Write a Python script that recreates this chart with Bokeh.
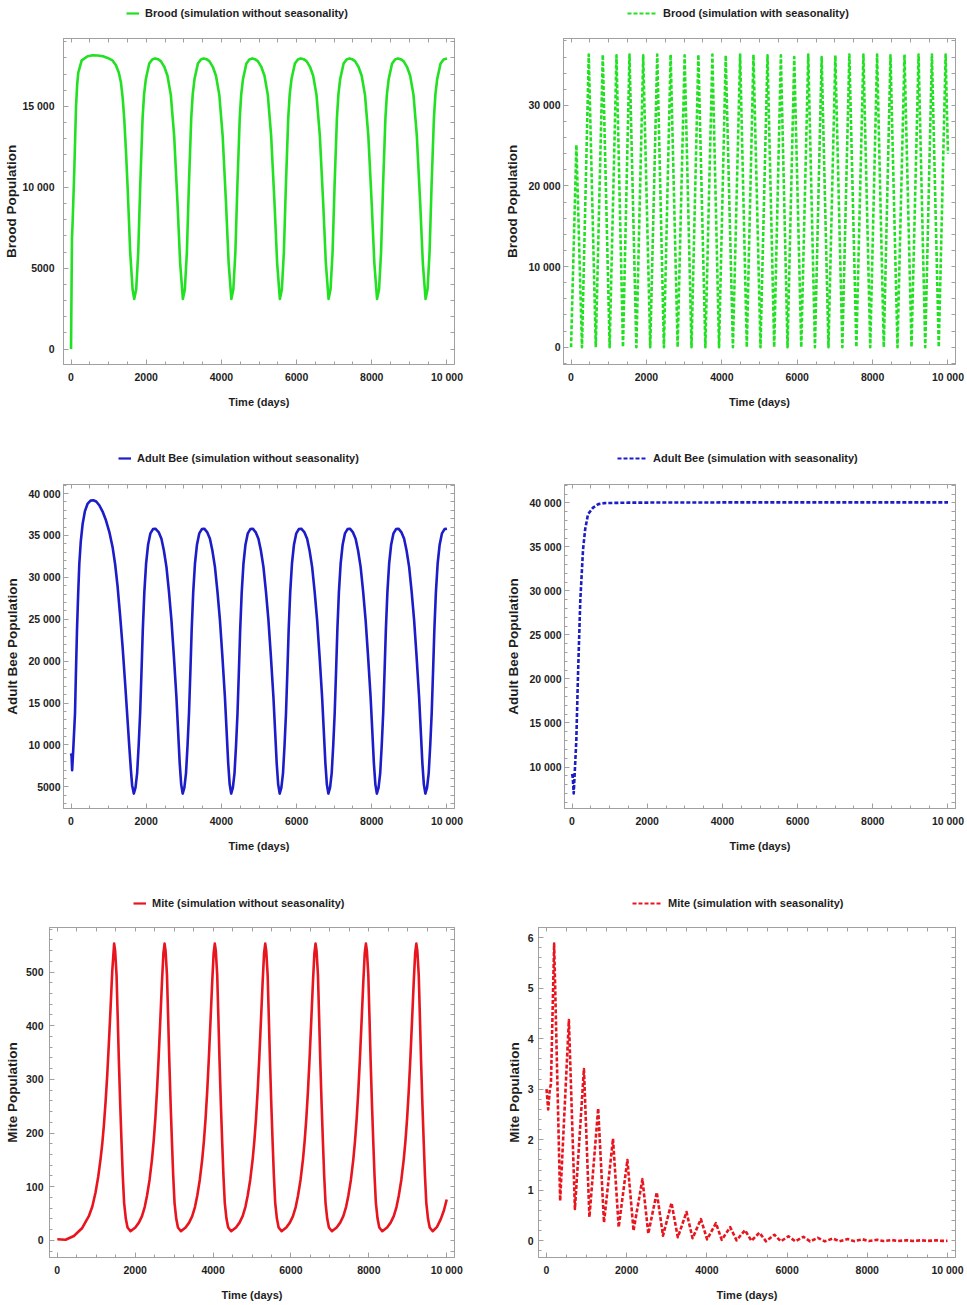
from bokeh.plotting import figure
from bokeh.models import Range1d, FixedTicker, LinearAxis, Legend, LegendItem
from bokeh.layouts import column, row
from bokeh.core.properties import value
from bokeh.embed import file_html
from bokeh.resources import INLINE

# ---------------- data ----------------
x_ticks = [0, 2000, 4000, 6000, 8000, 10000]
x_tick_labels = ["0", "2000", "4000", "6000", "8000", "10 000"]

# Brood, simulation without seasonality
brood_t = [0, 25, 45, 88, 133, 165, 194, 284, 443, 580, 708, 850, 974, 1100, 1195, 1270, 1327, 1375, 1415, 1460, 1504, 1574, 1637, 1681,
           1734, 1788, 1841, 1903, 1943, 1991, 2081, 2161, 2238, 2311, 2389, 2481, 2566, 2655, 2743, 2831, 2902, 2975,
           3028, 3082, 3135, 3197, 3237, 3285, 3375, 3455, 3532, 3601, 3679, 3771, 3856, 3945, 4033, 4121, 4192, 4265,
           4318, 4372, 4425, 4487, 4527, 4575, 4665, 4745, 4822, 4891, 4969, 5061, 5146, 5235, 5323, 5411, 5482, 5555,
           5608, 5662, 5715, 5777, 5817, 5865, 5955, 6035, 6112, 6186, 6264, 6356, 6441, 6530, 6618, 6706, 6777, 6850,
           6903, 6957, 7010, 7072, 7112, 7160, 7250, 7330, 7407, 7476, 7554, 7646, 7731, 7820, 7908, 7996, 8067, 8140,
           8193, 8247, 8300, 8362, 8402, 8450, 8540, 8620, 8697, 8766, 8844, 8936, 9021, 9110, 9198, 9286, 9357, 9430,
           9483, 9537, 9590, 9652, 9692, 9740, 9830, 9910, 10000]
brood_v = [0, 6800, 8000, 11100, 15000, 16400, 17100, 17850, 18100, 18160, 18150, 18100, 18000, 17850, 17550, 17100, 16500, 15500, 14250, 12300, 10100, 6000, 3700, 3100,
           3700, 6000, 10100, 14250, 15750, 16700, 17650, 17900, 17970, 17920, 17800, 17450, 16900, 15700, 13200, 9100, 5350, 3100,
           3700, 6000, 10100, 14250, 15750, 16700, 17650, 17900, 17970, 17920, 17800, 17450, 16900, 15700, 13200, 9100, 5350, 3100,
           3700, 6000, 10100, 14250, 15750, 16700, 17650, 17900, 17970, 17920, 17800, 17450, 16900, 15700, 13200, 9100, 5350, 3100,
           3700, 6000, 10100, 14250, 15750, 16700, 17650, 17900, 17970, 17920, 17800, 17450, 16900, 15700, 13200, 9100, 5350, 3100,
           3700, 6000, 10100, 14250, 15750, 16700, 17650, 17900, 17970, 17920, 17800, 17450, 16900, 15700, 13200, 9100, 5350, 3100,
           3700, 6000, 10100, 14250, 15750, 16700, 17650, 17900, 17970, 17920, 17800, 17450, 16900, 15700, 13200, 9100, 5350, 3100,
           3700, 6000, 10100, 14250, 15750, 16700, 17650, 17900, 17960]

# Brood, simulation with seasonality
brood_s_t = [0, 142, 290, 470, 656, 842, 1024, 1206, 1378, 1551, 1733, 1915, 2101, 2287, 2464, 2642,
             2828, 3014, 3196, 3378, 3564, 3750, 3927, 4104, 4295, 4486, 4663, 4840, 5026, 5213, 5390,
             5567, 5744, 5922, 6108, 6294, 6471, 6649, 6830, 7012, 7198, 7384, 7570, 7757, 7938, 8120,
             8297, 8475, 8661, 8847, 9033, 9220, 9397, 9574, 9756, 9938, 10000]
brood_s_v = [0, 25100, 0, 36300, 0, 36300, 0, 36200, 0, 36300, 0, 36200, 0, 36300, 0, 36300,
             0, 36200, 0, 36300, 0, 36300, 0, 36200, 0, 36300, 0, 36300, 0, 36200, 0,
             36200, 0, 36000, 0, 36300, 0, 36000, 0, 36200, 0, 36300, 0, 36300, 0, 36300,
             0, 36200, 0, 36300, 0, 36300, 0, 36300, 0, 36300, 24000]

# Adult bee, simulation without seasonality
adult_t = [0, 15, 30, 60, 106, 130, 159, 190, 221, 260, 310, 370, 443, 520, 593, 670, 752, 840, 929, 1020, 1106, 1175, 1239, 1305, 1372, 1440, 1504, 1550, 1593, 1625, 1670,
           1715, 1758, 1800, 1838, 1875, 1909, 1950, 1997, 2050, 2112, 2180, 2244, 2330, 2405, 2470, 2538, 2605, 2671, 2737, 2803, 2850, 2891, 2930, 2970,
           3015, 3058, 3100, 3138, 3175, 3209, 3250, 3297, 3350, 3412, 3480, 3544, 3620, 3695, 3760, 3828, 3895, 3961, 4027, 4093, 4140, 4181, 4220, 4260,
           4305, 4348, 4390, 4428, 4465, 4499, 4540, 4587, 4640, 4702, 4770, 4834, 4910, 4985, 5050, 5118, 5185, 5251, 5317, 5383, 5430, 5471, 5510, 5550,
           5595, 5638, 5680, 5718, 5755, 5789, 5830, 5877, 5930, 5992, 6060, 6124, 6205, 6280, 6345, 6413, 6480, 6546, 6612, 6678, 6725, 6766, 6805, 6845,
           6890, 6933, 6975, 7013, 7050, 7084, 7125, 7172, 7225, 7287, 7355, 7419, 7495, 7570, 7635, 7703, 7770, 7836, 7902, 7968, 8015, 8056, 8095, 8135,
           8180, 8223, 8265, 8303, 8340, 8374, 8415, 8462, 8515, 8577, 8645, 8709, 8785, 8860, 8925, 8993, 9060, 9126, 9192, 9258, 9305, 9346, 9385, 9425,
           9470, 9513, 9555, 9593, 9630, 9664, 9705, 9752, 9805, 9867, 9935, 10000]
adult_v = [9000, 8700, 7000, 9500, 13750, 18500, 23700, 28000, 31650, 34300, 36400, 37900, 38800, 39150, 39200, 39050, 38600, 37850, 36800, 35400, 33600, 31500, 28900, 25500, 21700, 17300, 12950, 9800, 7000, 5200, 4200,
           4900, 6600, 10000, 13750, 18800, 23700, 28200, 31650, 33900, 35250, 35750, 35800, 35400, 34600, 33200, 31250, 28300, 24900, 20500, 15750, 11500, 7800, 5300, 4200,
           4900, 6600, 10000, 13750, 18800, 23700, 28200, 31650, 33900, 35250, 35750, 35800, 35400, 34600, 33200, 31250, 28300, 24900, 20500, 15750, 11500, 7800, 5300, 4200,
           4900, 6600, 10000, 13750, 18800, 23700, 28200, 31650, 33900, 35250, 35750, 35800, 35400, 34600, 33200, 31250, 28300, 24900, 20500, 15750, 11500, 7800, 5300, 4200,
           4900, 6600, 10000, 13750, 18800, 23700, 28200, 31650, 33900, 35250, 35750, 35800, 35400, 34600, 33200, 31250, 28300, 24900, 20500, 15750, 11500, 7800, 5300, 4200,
           4900, 6600, 10000, 13750, 18800, 23700, 28200, 31650, 33900, 35250, 35750, 35800, 35400, 34600, 33200, 31250, 28300, 24900, 20500, 15750, 11500, 7800, 5300, 4200,
           4900, 6600, 10000, 13750, 18800, 23700, 28200, 31650, 33900, 35250, 35750, 35800, 35400, 34600, 33200, 31250, 28300, 24900, 20500, 15750, 11500, 7800, 5300, 4200,
           4900, 6600, 10000, 13750, 18800, 23700, 28200, 31650, 33900, 35250, 35750, 35800]

# Adult bee, simulation with seasonality
adult_s_t = [0, 20, 45, 114, 160, 220, 293, 350, 425, 559, 700, 867, 1500, 3000, 5000, 7000, 10000]
adult_s_v = [9200, 8800, 7000, 13000, 20600, 28900, 34700, 37000, 38700, 39450, 39850, 39970,
             40020, 40040, 40050, 40050, 40050]

# Mite, simulation without seasonality
mite_t = [0, 213, 426, 641, 810, 900, 982, 1050, 1110, 1155, 1195, 1240, 1282, 1325, 1367, 1410, 1460,
          1485, 1522, 1550, 1580, 1615, 1650, 1682, 1716, 1760, 1804, 1880,
          2004, 2095, 2175, 2245, 2304, 2370, 2432, 2475, 2517, 2560, 2601, 2645, 2688, 2725, 2755, 2780, 2817, 2845, 2875, 2910, 2945, 2977, 3011, 3055, 3099, 3175,
          3294, 3385, 3465, 3535, 3594, 3660, 3722, 3765, 3807, 3850, 3891, 3935, 3978, 4015, 4045, 4070, 4107, 4135, 4165, 4200, 4235, 4267, 4301, 4345, 4389, 4465,
          4589, 4680, 4760, 4830, 4889, 4955, 5017, 5060, 5102, 5145, 5186, 5230, 5273, 5310, 5340, 5365, 5402, 5430, 5460, 5495, 5530, 5562, 5596, 5640, 5684, 5760,
          5881, 5972, 6052, 6122, 6181, 6247, 6309, 6352, 6394, 6437, 6478, 6522, 6565, 6602, 6632, 6657, 6694, 6722, 6752, 6787, 6822, 6854, 6888, 6932, 6976, 7052,
          7174, 7265, 7345, 7415, 7474, 7540, 7602, 7645, 7687, 7730, 7771, 7815, 7858, 7895, 7925, 7950, 7987, 8015, 8045, 8080, 8115, 8147, 8181, 8225, 8269, 8345,
          8469, 8560, 8640, 8710, 8769, 8835, 8897, 8940, 8982, 9025, 9066, 9110, 9153, 9190, 9220, 9245, 9282, 9310, 9340, 9375, 9410, 9442, 9476, 9520, 9564, 9640,
          9751, 9850, 9930, 10000]
mite_v = [2, 1, 8, 23, 45, 63, 89, 118, 151, 180, 213, 258, 307, 368, 431, 500, 553,
          540, 494, 420, 338, 255, 182, 120, 70, 40, 24, 17,
          24, 33, 45, 62, 83, 113, 151, 185, 226, 278, 338, 410, 481, 535, 553, 540, 494, 420, 338, 255, 182, 120, 70, 40, 24, 17,
          24, 33, 45, 62, 83, 113, 151, 185, 226, 278, 338, 410, 481, 535, 553, 540, 494, 420, 338, 255, 182, 120, 70, 40, 24, 17,
          24, 33, 45, 62, 83, 113, 151, 185, 226, 278, 338, 410, 481, 535, 553, 540, 494, 420, 338, 255, 182, 120, 70, 40, 24, 17,
          24, 33, 45, 62, 83, 113, 151, 185, 226, 278, 338, 410, 481, 535, 553, 540, 494, 420, 338, 255, 182, 120, 70, 40, 24, 17,
          24, 33, 45, 62, 83, 113, 151, 185, 226, 278, 338, 410, 481, 535, 553, 540, 494, 420, 338, 255, 182, 120, 70, 40, 24, 17,
          24, 33, 45, 62, 83, 113, 151, 185, 226, 278, 338, 410, 481, 535, 553, 540, 494, 420, 338, 255, 182, 120, 70, 40, 24, 17,
          25, 40, 56, 76]

# Mite, simulation with seasonality
mite_s_t = [0, 42, 83, 110, 190, 340, 558, 708, 933, 1070, 1288, 1433, 1658, 1800, 2017, 2170,
            2392, 2538, 2750, 2905, 3117, 3275, 3492, 3642, 3850, 4005, 4225, 4370, 4580, 4740,
            4950, 5110, 5308, 5475, 5683, 5845, 6033, 6208, 6408, 6575, 6767, 6940, 7142, 7305,
            7510, 7670, 7880, 8040, 8250, 8405, 8615, 8770, 8985, 9135, 9350, 9500, 9720, 9870, 10000]
mite_s_v = [3.0, 2.6, 3.0, 3.1, 5.88, 0.79, 4.37, 0.63, 3.40, 0.47, 2.62, 0.36, 2.02, 0.27, 1.60, 0.20,
            1.22, 0.14, 0.96, 0.10, 0.75, 0.07, 0.57, 0.05, 0.43, 0.03, 0.35, 0.02, 0.27, 0.01,
            0.21, 0.0, 0.16, -0.01, 0.12, -0.01, 0.09, -0.01, 0.08, -0.01, 0.06, -0.01, 0.045, -0.008,
            0.035, -0.006, 0.03, -0.005, 0.02, -0.004, 0.015, -0.003, 0.012, -0.002, 0.01, -0.002, 0.008, -0.001, 0.0]

brood_ticks = [0, 5000, 10000, 15000]
brood_tick_labels = ["0", "5000", "10 000", "15 000"]
brood_s_ticks = [0, 10000, 20000, 30000]
brood_s_tick_labels = ["0", "10 000", "20 000", "30 000"]
adult_ticks = [5000, 10000, 15000, 20000, 25000, 30000, 35000, 40000]
adult_tick_labels = ["5000", "10 000", "15 000", "20 000", "25 000", "30 000", "35 000", "40 000"]
adult_s_ticks = [10000, 15000, 20000, 25000, 30000, 35000, 40000]
adult_s_tick_labels = ["10 000", "15 000", "20 000", "25 000", "30 000", "35 000", "40 000"]
mite_ticks = [0, 100, 200, 300, 400, 500]
mite_tick_labels = ["0", "100", "200", "300", "400", "500"]
mite_s_ticks = [0, 1, 2, 3, 4, 5, 6]
mite_s_tick_labels = ["0", "1", "2", "3", "4", "5", "6"]

# ---------------- styling ----------------
FONT = "Liberation Sans"
FRAME = "#a0a0a0"
TEXT = "#1e1e1e"
GREEN = "#22e022"
BLUE = "#1c1cc8"
RED = "#e8141e"

x_minor = list(range(0, 10001, 500))


def style_axis(ax):
    ax.axis_line_color = FRAME
    ax.major_tick_line_color = FRAME
    ax.minor_tick_line_color = FRAME
    ax.major_tick_in = 5
    ax.major_tick_out = 0
    ax.minor_tick_in = 3
    ax.minor_tick_out = 0


def header(w, h, color, dash, label, gw, lx, ly):
    """A strip above a panel that holds its legend (line sample + caption)."""
    hp = figure(width=w, height=h, x_range=Range1d(0, w), y_range=Range1d(0, h),
                output_backend="svg", toolbar_location=None,
                x_axis_type=None, y_axis_type=None,
                min_border_left=0, min_border_right=0, min_border_top=0, min_border_bottom=0,
                background_fill_color="white", border_fill_color="white")
    hp.outline_line_color = None
    hp.xgrid.visible = False
    hp.ygrid.visible = False
    # legend-only renderer: its single point lies outside the strip, so only the key shows
    r = hp.line(x=[-50, -40], y=[-50, -50], line_color=color, line_width=2.2, line_dash=dash)
    leg = Legend(items=[LegendItem(label=value(label), renderers=[r])], location=(lx, ly),
                 orientation="horizontal", glyph_width=gw, glyph_height=14, label_height=14,
                 label_standoff=6, padding=0, margin=0, spacing=0,
                 border_line_color=None, background_fill_alpha=0,
                 label_text_font=FONT, label_text_font_style="bold",
                 label_text_font_size="11px", label_text_color=TEXT)
    hp.add_layout(leg, "center")
    return hp


def build(w, h, bl, br, bt, bb, y_range, y_ticks, y_labels, y_minor, y_title,
          lab_sd, title_sd, t, v, color, dash):
    p = figure(width=w, height=h, x_range=Range1d(-200, 10200), y_range=Range1d(*y_range),
               output_backend="svg", toolbar_location=None,
               min_border_left=bl, min_border_right=br, min_border_top=bt, min_border_bottom=bb,
               background_fill_color="white", border_fill_color="white")
    p.xgrid.visible = False
    p.ygrid.visible = False
    p.outline_line_color = FRAME
    p.outline_line_width = 1

    p.line(t, v, line_color=color, line_width=2.6, line_dash=dash, line_join="round")

    xt = FixedTicker(ticks=x_ticks, minor_ticks=x_minor)
    yt = FixedTicker(ticks=y_ticks, minor_ticks=y_minor)

    xa = p.xaxis[0]
    xa.ticker = xt
    xa.major_label_overrides = dict(zip(x_ticks, x_tick_labels))
    xa.axis_label = "Time (days)"
    xa.major_label_standoff = 6
    xa.axis_label_standoff = 10
    ya = p.yaxis[0]
    ya.ticker = yt
    ya.major_label_overrides = dict(zip(y_ticks, y_labels))
    ya.axis_label = y_title
    ya.major_label_standoff = lab_sd
    ya.axis_label_standoff = title_sd
    for ax in (xa, ya):
        style_axis(ax)
        ax.major_label_text_font = FONT
        ax.major_label_text_font_style = "bold"
        ax.major_label_text_font_size = "10.5px"
        ax.major_label_text_color = TEXT
        ax.axis_label_text_font = FONT
        ax.axis_label_text_font_style = "bold"
        ax.axis_label_text_color = TEXT
    xa.axis_label_text_font_size = "11px"
    ya.axis_label_text_font_size = "13.5px"

    # frame ticks on the top and right sides, without labels
    top = LinearAxis(ticker=FixedTicker(ticks=[], minor_ticks=sorted(set(x_ticks + x_minor))),
                     major_label_standoff=0)
    right = LinearAxis(ticker=FixedTicker(ticks=[], minor_ticks=sorted(set(list(y_ticks) + list(y_minor)))),
                       major_label_standoff=0)
    for ax in (top, right):
        style_axis(ax)
        ax.minor_tick_in = 4
    p.add_layout(top, "above")
    p.add_layout(right, "right")
    return p


h1 = header(483, 26, GREEN, "solid", "Brood (simulation without seasonality)", 13, 126, 6)
h2 = header(484, 26, GREEN, "4 2", "Brood (simulation with seasonality)", 30, 144, 6)
p1 = build(483, 414, 63, 29, 12, 76, (-950, 19200), brood_ticks, brood_tick_labels,
           list(range(-1000, 20001, 1000)), "Brood Population", 9, 0,
           brood_t, brood_v, GREEN, "solid")
p2 = build(484, 414, 80, 12, 12, 76, (-2150, 38300), brood_s_ticks, brood_s_tick_labels,
           list(range(-2000, 40001, 2000)), "Brood Population", 3, 5,
           brood_s_t, brood_s_v, GREEN, "4 2")

h3 = header(483, 30, BLUE, "solid", "Adult Bee (simulation without seasonality)", 13, 118, 5)
h4 = header(484, 30, BLUE, "4 2", "Adult Bee (simulation with seasonality)", 30, 134, 5)
p3 = build(483, 410, 63, 29, 14, 72, (2420, 41075), adult_ticks, adult_tick_labels,
           list(range(2000, 42001, 1000)), "Adult Bee Population", 3, 5,
           adult_t, adult_v, BLUE, "solid")
p4 = build(484, 410, 81, 12, 14, 72, (5290, 42080), adult_s_ticks, adult_s_tick_labels,
           list(range(5000, 43001, 1000)), "Adult Bee Population", 3, 5,
           adult_s_t, adult_s_v, BLUE, "4 2")

h5 = header(483, 32, RED, "solid", "Mite (simulation without seasonality)", 13, 133, 2)
h6 = header(484, 32, RED, "4 2", "Mite (simulation with seasonality)", 30, 149, 2)
p5 = build(483, 393, 49, 29, 15, 48, (-32, 583), mite_ticks, mite_tick_labels,
           list(range(-20, 601, 20)), "Mite Population", 6, 3,
           mite_t, mite_v, RED, "solid")
p6 = build(484, 393, 55, 12, 15, 48, (-0.33, 6.2), mite_s_ticks, mite_s_tick_labels,
           [i * 0.2 for i in range(-1, 32)], "Mite Population", 5, 3,
           mite_s_t, mite_s_v, RED, "4 2")

layout = column(row(h1, h2), row(p1, p2), row(h3, h4), row(p3, p4), row(h5, h6), row(p5, p6))

with open("out.html", "w") as f:
    f.write(file_html(layout, INLINE, "Bee and mite populations"))
